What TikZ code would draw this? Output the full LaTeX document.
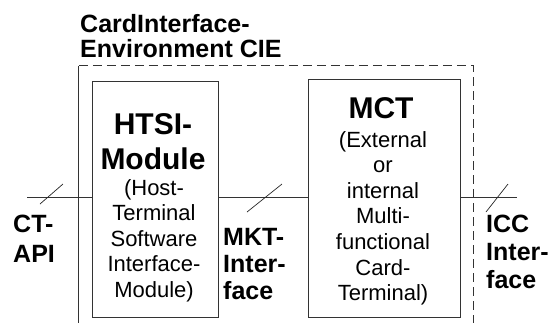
\documentclass[tikz,border=0pt]{standalone}
\usepackage{fontspec}
\setmainfont{Liberation Sans}
\usetikzlibrary{positioning}

\begin{document}
\begin{tikzpicture}[x=1pt,y=-1pt]
    %styles
    \tikzstyle{module}=[rectangle,draw=black!80,line width=0.8pt,inner sep=0pt]
    \tikzstyle{env}=[rectangle,inner sep=0pt]
    \tikzstyle{envline}=[draw=black!80,line width=0.9pt,dash pattern=on 9pt off 5pt]
    \tikzstyle{head}=[inner sep=0pt,align=center,anchor=north,font=\fontsize{30}{35}\selectfont\bfseries]
    \tikzstyle{desc}=[inner sep=0pt,align=center,anchor=north,font=\fontsize{22}{25.6}\selectfont]
    \tikzstyle{iface}=[inner sep=0pt,align=left,anchor=north west]
    \tikzstyle{bus}=[draw=black!80,line width=0.8pt]
    \tikzstyle{tick}=[draw=black!85,line width=0.7pt]
    \clip (0,0) rectangle (552,322);
    %nodes
    \node[env,minimum width=394pt,minimum height=274pt] (cie) at (276,203) {};
    \node[iface,font=\fontsize{25}{25}\selectfont\bfseries] (title) at (80,14) {CardInterface-\\Environment CIE};
    \node[module,minimum width=126pt,minimum height=236pt] (htsi) at (155,199) {};
    \node[module,minimum width=152pt,minimum height=238pt] (mct) at (384,198) {};
    \node[head] (htsihead) at (153,113) {HTSI-\\Module};
    \node[desc] (htsidesc) at (154,179) {(Host-\\Terminal\\Software\\Interface-\\Module)};
    \node[head] (mcthead) at (381,97) {MCT};
    \node[desc] (mctdesc) at (383,131) {(External\\or\\internal\\Multi-\\functional\\Card-\\Terminal)};
    \node[iface,font=\fontsize{25}{30}\selectfont\bfseries] (ctapi) at (13,215) {CT-\\API};
    \node[iface,font=\fontsize{25}{27}\selectfont\bfseries] (mkt) at (223,228) {MKT-\\Inter-\\face};
    \node[iface,font=\fontsize{25}{28}\selectfont\bfseries] (icc) at (486,215) {ICC\\Inter-\\face};
    \coordinate (host) at (27,197);
    \coordinate (card) at (517,197);

    %lines
    \draw[bus] (cie.south west) -- (cie.north west);
    \draw[envline] (cie.north west) -- (cie.north east) -- (cie.south east);
    \draw[bus] (host) -- (htsi.west |- host);
    \draw[bus] (htsi.east |- host) -- (mct.west |- host);
    \draw[bus] (mct.east |- host) -- (card);
    \draw[tick] (40,204) -- (63,184);
    \draw[tick] (247,212) -- (282,184);
    \draw[tick] (486,212) -- (508,184);
\end{tikzpicture}
\end{document}
